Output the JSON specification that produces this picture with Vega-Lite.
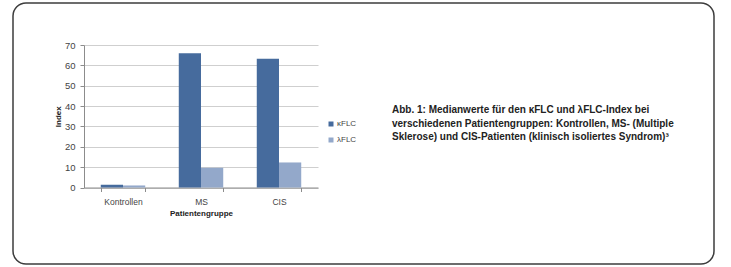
{
  "$schema": "https://vega.github.io/schema/vega-lite/v6.json",
  "autosize": {"type": "none"},
  "width": 701,
  "height": 261,
  "padding": {"left": 13, "top": 3, "right": 17, "bottom": 3},
  "background": "white",
  "title": {
    "text": ["Abb. 1: Medianwerte für den κFLC und λFLC-Index bei", "verschiedenen Patientengruppen: Kontrollen, MS- (Multiple", "Sklerose) und CIS-Patienten (klinisch isoliertes Syndrom)³"],
    "anchor": "start",
    "frame": "group",
    "orient": "top",
    "baseline": "top",
    "dx": 379,
    "dy": 139,
    "offset": 0,
    "lineHeight": 13.5,
    "font": "Liberation Sans",
    "fontSize": 10,
    "fontWeight": "bold",
    "color": "#222222"
  },
  "data": {
    "values": [
      {"gruppe": "Kontrollen", "serie": "κFLC", "index": 1.3},
      {"gruppe": "Kontrollen", "serie": "λFLC", "index": 1.0},
      {"gruppe": "MS", "serie": "κFLC", "index": 66.0},
      {"gruppe": "MS", "serie": "λFLC", "index": 9.7},
      {"gruppe": "CIS", "serie": "κFLC", "index": 63.2},
      {"gruppe": "CIS", "serie": "λFLC", "index": 12.3}
    ]
  },
  "mark": {"type": "bar"},
  "encoding": {
    "x": {
      "field": "gruppe",
      "type": "nominal",
      "sort": ["Kontrollen", "MS", "CIS"],
      "scale": {"range": [71, 305], "paddingInner": 0.43, "paddingOuter": 0.215},
      "axis": {
        "title": "Patientengruppe",
        "offset": -76.5,
        "labelAngle": 0,
        "tickBand": "extent",
        "tickSize": 4,
        "labelPadding": 6,
        "labelFontSize": 8.5,
        "titlePadding": 3
      }
    },
    "xOffset": {
      "field": "serie",
      "type": "nominal",
      "sort": ["κFLC", "λFLC"],
      "scale": {"paddingInner": 0, "paddingOuter": 0}
    },
    "y": {
      "field": "index",
      "type": "quantitative",
      "scale": {"domain": [0, 70], "range": [184.5, 42], "nice": false},
      "axis": {
        "title": "Index",
        "offset": -71,
        "values": [0, 10, 20, 30, 40, 50, 60, 70],
        "tickSize": 4,
        "labelPadding": 5,
        "labelFontSize": 9.5,
        "titlePadding": 2,
        "grid": true
      }
    },
    "color": {
      "field": "serie",
      "type": "nominal",
      "sort": ["κFLC", "λFLC"],
      "scale": {"range": ["#466B9D", "#93A8CA"]},
      "legend": {
        "orient": "none",
        "legendX": 314,
        "legendY": 117,
        "title": null,
        "symbolType": "square",
        "symbolSize": 25,
        "symbolStrokeWidth": 0,
        "labelFontSize": 8,
        "labelFont": "Liberation Sans",
        "labelColor": "#444444",
        "labelOffset": 2,
        "rowPadding": 8
      }
    }
  },
  "config": {
    "view": {"stroke": "#3d3d3d", "strokeWidth": 1.5, "cornerRadius": 13},
    "axis": {
      "domainColor": "#8c8c8c",
      "tickColor": "#8c8c8c",
      "gridColor": "#cfcfcf",
      "labelFont": "Liberation Sans",
      "labelColor": "#444444",
      "titleFont": "Liberation Sans",
      "titleFontSize": 8,
      "titleFontWeight": "bold",
      "titleColor": "#222222"
    }
  }
}
